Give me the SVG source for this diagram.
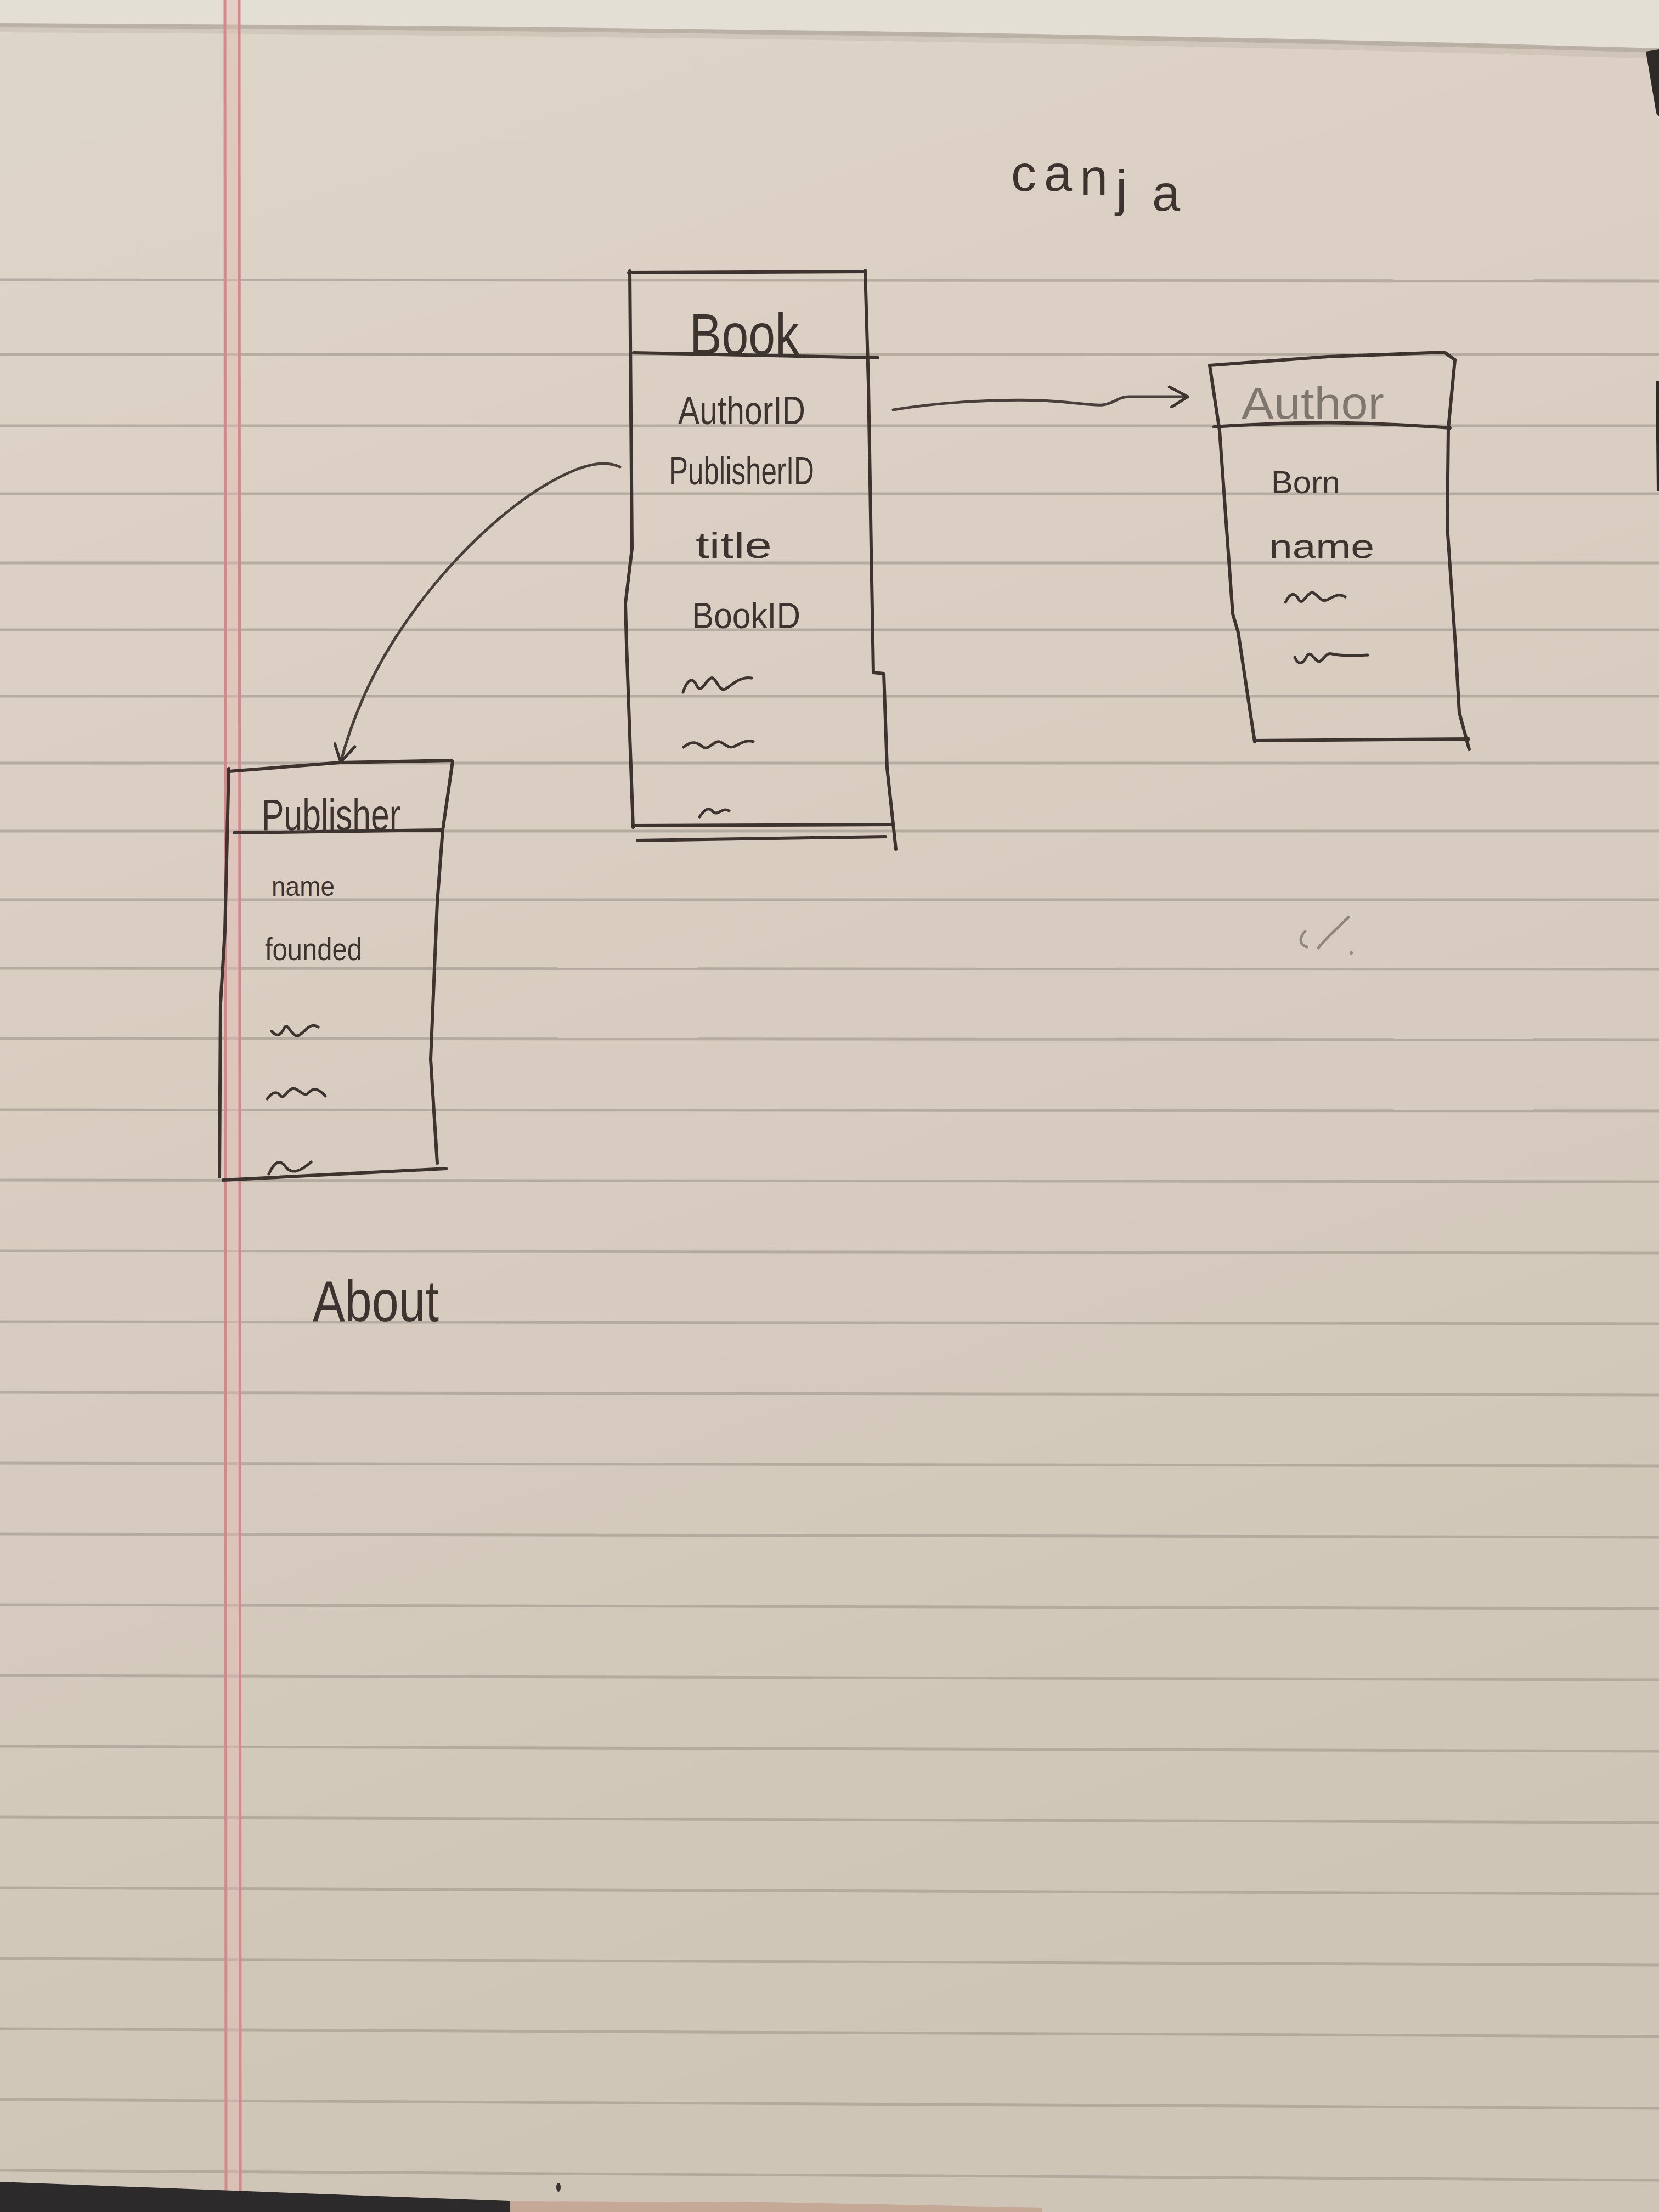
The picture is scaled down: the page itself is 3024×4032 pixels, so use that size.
<svg xmlns="http://www.w3.org/2000/svg" width="3024" height="4032" viewBox="0 0 3024 4032">
  <defs>
    <linearGradient id="paper" x1="0" y1="0" x2="0.25" y2="1">
      <stop offset="0" stop-color="#ddd6c8"/>
      <stop offset="0.3" stop-color="#dccfc3"/>
      <stop offset="0.65" stop-color="#d6cbbe"/>
      <stop offset="1" stop-color="#cec5b6"/>
    </linearGradient>
    <marker id="chevron" viewBox="0 0 40 40" refX="38" refY="20" markerWidth="42" markerHeight="42" markerUnits="userSpaceOnUse" orient="auto">
      <path d="M6,3 L38,20 L10,38" fill="none" stroke="#3d3430" stroke-width="5" stroke-linecap="round" stroke-linejoin="round"/>
    </marker>
    <style>
      .rule { stroke: #aca297; stroke-width: 5; fill: none; opacity: 0.8; }
      .margin { stroke: #d6878a; stroke-width: 5; fill: none; }
      .ink { fill: none; stroke: #3d3430; stroke-width: 6; stroke-linecap: round; stroke-linejoin: round; }
      .thin { fill: none; stroke: #3d3430; stroke-width: 5; stroke-linecap: round; stroke-linejoin: round; }
      .hand { font-family: "Liberation Sans", "DejaVu Sans", sans-serif; fill: #3d3430; }
      .faded { fill: #7f766e; }
      .link { fill: none; stroke: #4a403b; stroke-width: 5; stroke-linecap: round; stroke-linejoin: round; }
    </style>
  </defs>

  <!-- sheet of ruled paper -->
  <rect x="0" y="0" width="3024" height="4032" fill="url(#paper)"/>
  <path d="M0,0 L3024,0 L3024,90 C2200,66 1200,50 0,44 Z" fill="#e4dfd4"/>
  <path d="M0,46 C1200,52 2200,68 3024,92" fill="none" stroke="#a99f94" stroke-width="8" opacity="0.7"/>
  <path d="M0,52 C1200,58 2200,74 3024,100" fill="none" stroke="#bdb4a8" stroke-width="14" opacity="0.4"/>

  <g id="ruling">
    <line class="rule" x1="0" y1="510" x2="3024" y2="512"/>
    <line class="rule" x1="0" y1="646" x2="3024" y2="646"/>
    <line class="rule" x1="0" y1="776" x2="3024" y2="776"/>
    <line class="rule" x1="0" y1="900" x2="3024" y2="900"/>
    <line class="rule" x1="0" y1="1026" x2="3024" y2="1026"/>
    <line class="rule" x1="0" y1="1148" x2="3024" y2="1148"/>
    <line class="rule" x1="0" y1="1269" x2="3024" y2="1269"/>
    <line class="rule" x1="0" y1="1391" x2="3024" y2="1391"/>
    <line class="rule" x1="0" y1="1515" x2="3024" y2="1515"/>
    <line class="rule" x1="0" y1="1640" x2="3024" y2="1640"/>
    <line class="rule" x1="0" y1="1765" x2="3024" y2="1767"/>
    <line class="rule" x1="0" y1="1893" x2="3024" y2="1895"/>
    <line class="rule" x1="0" y1="2023" x2="3024" y2="2025"/>
    <line class="rule" x1="0" y1="2151" x2="3024" y2="2154"/>
    <line class="rule" x1="0" y1="2280" x2="3024" y2="2284"/>
    <line class="rule" x1="0" y1="2409" x2="3024" y2="2413"/>
    <line class="rule" x1="0" y1="2538" x2="3024" y2="2543"/>
    <line class="rule" x1="0" y1="2667" x2="3024" y2="2672"/>
    <line class="rule" x1="0" y1="2796" x2="3024" y2="2802"/>
    <line class="rule" x1="0" y1="2925" x2="3024" y2="2932"/>
    <line class="rule" x1="0" y1="3054" x2="3024" y2="3062"/>
    <line class="rule" x1="0" y1="3183" x2="3024" y2="3192"/>
    <line class="rule" x1="0" y1="3312" x2="3024" y2="3322"/>
    <line class="rule" x1="0" y1="3441" x2="3024" y2="3452"/>
    <line class="rule" x1="0" y1="3570" x2="3024" y2="3582"/>
    <line class="rule" x1="0" y1="3698" x2="3024" y2="3712"/>
    <line class="rule" x1="0" y1="3827" x2="3024" y2="3843"/>
    <line class="rule" x1="0" y1="3956" x2="3024" y2="3974"/>
  </g>

  <g id="margin">
    <rect x="411" y="0" width="26" height="4000" fill="#e2bdb6" opacity="0.45"/>
    <line class="margin" x1="410" y1="0" x2="412" y2="4000"/>
    <line class="margin" x1="436" y1="0" x2="438" y2="4000"/>
  </g>

  <!-- edges of the desk showing round the sheet -->
  <path d="M3000,94 L3024,90 L3024,212 L3019,206 Z" fill="#2e2a28"/>
  <path d="M3018,695 L3024,695 L3024,895 L3020,895 Z" fill="#2e2a28"/>
  <path d="M0,3977 L929,4012 L929,4032 L0,4032 Z" fill="#2d2a2b"/>
  <path d="M929,4012 L1400,4014 L1900,4024 L1900,4032 L929,4032 Z" fill="#c6a896"/>
  <ellipse cx="1018" cy="3987" rx="4" ry="8" fill="#3a3330"/>

  <!-- title and loose notes -->
  <text class="hand" font-size="92" x="1843 1903 1968 2034 2100" y="348 348 355 375 384">canja</text>
  <text class="hand" font-size="105" x="570" y="2408" textLength="230" lengthAdjust="spacingAndGlyphs">About</text>
  <g id="pencil-mark" opacity="0.45">
    <path class="thin" d="M2379,1698 C2368,1708 2368,1722 2382,1726 M2458,1672 C2440,1690 2418,1708 2403,1728"/>
    <circle cx="2463" cy="1737" r="3" fill="#3d3430"/>
  </g>

  <!-- Book entity -->
  <g id="book">
    <path class="ink" d="M1146,497 L1577,495"/>
    <path class="ink" d="M1148,494 L1152,1000 L1140,1100 L1142,1175 L1154,1508"/>
    <path class="ink" d="M1577,493 L1583,700 L1588,1000 L1592,1226 L1611,1228 L1617,1400 L1633,1548"/>
    <path class="ink" d="M1155,643 L1600,652"/>
    <path class="ink" d="M1154,1505 L1626,1503"/>
    <path class="ink" d="M1162,1532 L1614,1525"/>
    <text class="hand" font-size="105" x="1257" y="646" textLength="200" lengthAdjust="spacingAndGlyphs">Book</text>
    <text class="hand" font-size="72" x="1236" y="773" textLength="232" lengthAdjust="spacingAndGlyphs">AuthorID</text>
    <text class="hand" font-size="72" x="1220" y="883" textLength="264" lengthAdjust="spacingAndGlyphs">PublisherID</text>
    <text class="hand" font-size="66" x="1268" y="1017" textLength="139" lengthAdjust="spacingAndGlyphs">title</text>
    <text class="hand" font-size="66" x="1261" y="1145" textLength="198" lengthAdjust="spacingAndGlyphs">BookID</text>
    <path class="thin" d="M1245,1262 C1252,1240 1262,1232 1270,1250 C1278,1266 1286,1240 1296,1236 C1305,1232 1310,1262 1322,1256 C1335,1248 1350,1232 1370,1236"/>
    <path class="thin" d="M1246,1362 C1260,1350 1270,1352 1282,1362 C1292,1368 1300,1350 1312,1352 C1322,1356 1328,1366 1340,1360 C1350,1355 1360,1348 1373,1352"/>
    <path class="thin" d="M1275,1489 C1285,1475 1292,1470 1300,1480 C1308,1488 1318,1470 1329,1478"/>
  </g>

  <!-- Author entity -->
  <g id="author">
    <path class="ink" d="M2205,666 L2420,650 L2633,642 L2652,656"/>
    <path class="ink" d="M2652,656 L2640,780 L2638,959 L2653,1177 L2660,1299 L2678,1366"/>
    <path class="ink" d="M2213,778 C2400,766 2500,770 2643,780"/>
    <path class="ink" d="M2205,666 L2223,785 L2247,1119 L2257,1153 L2287,1352"/>
    <path class="ink" d="M2287,1350 L2677,1347"/>
    <text class="hand faded" font-size="82" x="2263" y="763" textLength="260" lengthAdjust="spacingAndGlyphs">Author</text>
    <text class="hand" font-size="58" x="2317" y="899" textLength="126" lengthAdjust="spacingAndGlyphs">Born</text>
    <text class="hand" font-size="62" x="2313" y="1017" textLength="192" lengthAdjust="spacingAndGlyphs">name</text>
    <path class="thin" d="M2343,1098 C2352,1080 2360,1078 2368,1094 C2375,1104 2382,1080 2392,1080 C2402,1082 2406,1098 2418,1094 C2430,1088 2440,1080 2452,1088"/>
    <path class="thin" d="M2360,1198 C2366,1212 2375,1212 2382,1196 C2388,1184 2396,1204 2404,1206 C2412,1206 2416,1188 2428,1192 C2445,1196 2470,1195 2493,1194"/>
  </g>

  <!-- Publisher entity -->
  <g id="publisher">
    <path class="ink" d="M417,1406 L620,1390 L823,1386"/>
    <path class="ink" d="M825,1388 L807,1513 L797,1645 L785,1931 L797,2120"/>
    <path class="ink" d="M427,1518 L807,1513"/>
    <path class="ink" d="M417,1401 L410,1697 L402,1829 L400,2145"/>
    <path class="ink" d="M407,2151 L813,2130"/>
    <text class="hand" font-size="80" x="477" y="1513" textLength="253" lengthAdjust="spacingAndGlyphs">Publisher</text>
    <text class="hand" font-size="50" x="495" y="1633" textLength="115" lengthAdjust="spacingAndGlyphs">name</text>
    <text class="hand" font-size="58" x="483" y="1750" textLength="177" lengthAdjust="spacingAndGlyphs">founded</text>
    <path class="thin" d="M495,1880 C505,1890 512,1888 518,1874 C524,1862 530,1886 540,1888 C552,1890 562,1860 580,1872"/>
    <path class="thin" d="M487,2003 C497,1990 505,1988 512,1998 C518,2004 525,1984 535,1984 C545,1985 552,1998 560,1994 C568,1986 575,1978 593,1998"/>
    <path class="thin" d="M490,2140 C500,2118 510,2112 520,2126 C530,2140 545,2138 567,2118"/>
  </g>

  <!-- relations -->
  <g id="connectors">
    <path class="link" marker-end="url(#chevron)" d="M1628,747 C1700,735 1800,727 1900,730 C1960,733 1990,740 2010,738 C2030,736 2040,722 2060,723 L2165,723"/>
    <path class="link" marker-end="url(#chevron)" d="M1130,851 C1110,842 1085,842 1050,856 C960,892 860,980 780,1080 C700,1180 650,1280 621,1389"/>
  </g>
</svg>
